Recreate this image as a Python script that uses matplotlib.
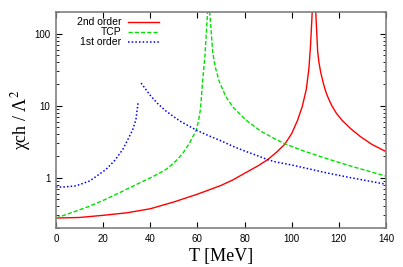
import numpy as np
import matplotlib
matplotlib.use('Agg')
import matplotlib.pyplot as plt

# --- values (T in MeV, chi_ch / Lambda^2) ---
red_T = [0, 10, 20, 30, 40, 50, 60, 70, 75, 80, 86, 90, 93.5, 97, 100,
         102.5, 104.5, 106.2, 107.3, 108.0, 108.7, 109.45,
         110.2, 111, 111.5, 112.3, 113.5, 114.5, 115.5, 117, 119, 121.5, 125, 129, 134, 140]
red_chi = [0.275, 0.28, 0.30, 0.325, 0.37, 0.46, 0.59, 0.78, 0.93, 1.15, 1.48, 1.8, 2.25, 2.9, 4.1,
           6.3, 9.8, 17, 33, 70, 200, 2000,
           200, 57, 41, 29, 20, 15.5, 12.8, 10, 7.8, 6.2, 4.8, 3.75, 2.9, 2.3]

green_T = [0, 7, 14.1, 21, 28.3, 35, 41, 46.7, 50, 53.7, 56.6, 59.4, 60.4, 61.3, 62.2, 63.2, 63.9, 64.3, 64.7,
           65.2, 66.5, 67.5, 69.3, 72, 75, 80.6, 87, 93.3, 97.2, 105, 114.6, 125, 140]
green_chi = [0.275, 0.33, 0.40, 0.50, 0.65, 0.83, 1.03, 1.3, 1.6, 2.15, 3.0, 4.5, 6.0, 9, 22, 50, 120, 200, 2000,
             200, 55, 35, 21.5, 13.5, 9.6, 6.3, 4.4, 3.4, 2.95, 2.35, 1.85, 1.45, 1.05]

blue_lo_T = [0, 4, 8.5, 14.3, 21.2, 25, 28.3, 30.5, 32.5, 33.9, 34.9]
blue_lo_chi = [0.74, 0.745, 0.77, 0.90, 1.30, 1.75, 2.46, 3.4, 4.6, 6.4, 11.5]
blue_hi_T = [36.1, 40, 43, 46.7, 50, 53, 59.4, 65, 70, 75, 80, 85, 90, 93.3, 100, 114.6, 125, 140]
blue_hi_chi = [20.6, 13.9, 10.8, 8.4, 7.0, 6.0, 4.6, 3.8, 3.25, 2.73, 2.35, 2.05, 1.77, 1.65, 1.5, 1.17, 1.0, 0.81]

labels = ['2nd order', 'TCP', '1st order']
xticks = [0, 20, 40, 60, 80, 100, 120, 140]

plt.rcParams['font.family'] = ['Liberation Sans', 'DejaVu Sans']
plt.rcParams['mathtext.fontset'] = 'stix'

fig = plt.figure(figsize=(4.03, 2.67), dpi=100)
ax = fig.add_axes([56 / 403, 1 - 228 / 267, 330 / 403, 216 / 267])

ax.plot(red_T, red_chi, color='#ff0000', lw=1.0, label=labels[0])
ax.plot(green_T, green_chi, color='#00e000', lw=1.0, ls=(0, (3, 1.5)), label=labels[1])
ax.plot(blue_lo_T, blue_lo_chi, color='#0000ff', lw=1.1, ls=(0, (1, 1.4)), label=labels[2])
ax.plot(blue_hi_T, blue_hi_chi, color='#0000ff', lw=1.1, ls=(0, (1, 1.4)))

ax.set_yscale('log')
ax.set_xlim(0, 140)
ax.set_ylim(0.2, 200)
ax.set_xticks(xticks)
ax.set_xticklabels([str(t) for t in xticks])
ax.set_yticks([1, 10, 100])
ax.set_yticklabels(['1', '10', '100'])

ax.tick_params(which='both', direction='in', top=True, right=True,
               labelsize=7, color='black', pad=4)
ax.tick_params(which='major', length=4, width=0.8)
ax.tick_params(which='minor', length=2.2, width=0.6)
ax.tick_params(axis='x', which='minor', top=False, bottom=False)
for s in ax.spines.values():
    s.set_color('#808080')
    s.set_linewidth(1.2)

ax.set_xlabel('T [MeV]', fontsize=13, family='Liberation Serif', labelpad=3)
ax.set_ylabel(r'χch / Λ$^2$', fontsize=13, family='Liberation Serif', labelpad=1)

leg = ax.legend(loc='upper right', bbox_to_anchor=(0.312, 0.975), markerfirst=False,
                frameon=False, fontsize=7.5, handlelength=3.0, handletextpad=0.6,
                labelspacing=0.0, borderpad=0, borderaxespad=0)

fig.savefig('out.png', dpi=100)
